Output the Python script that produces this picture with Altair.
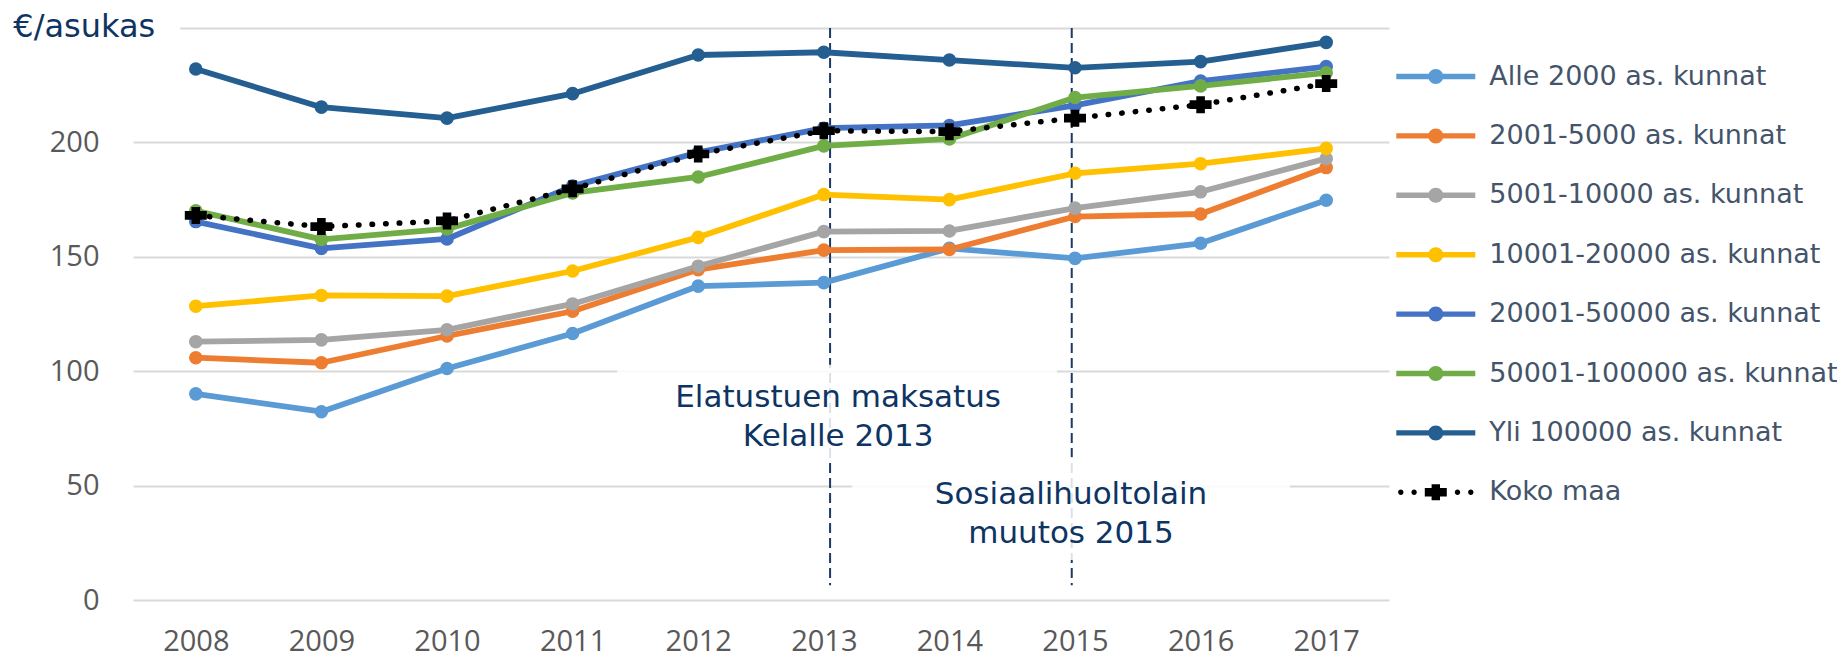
import altair as alt
import pandas as pd

# ---------------- data ----------------
years = [2008, 2009, 2010, 2011, 2012, 2013, 2014, 2015, 2016, 2017]

series_names = [
    "Alle 2000 as. kunnat",
    "2001-5000 as. kunnat",
    "5001-10000 as. kunnat",
    "10001-20000 as. kunnat",
    "20001-50000 as. kunnat",
    "50001-100000 as. kunnat",
    "Yli 100000 as. kunnat",
]
total_name = "Koko maa"

alle_2000 = [90.1, 82.3, 101.2, 116.5, 137.2, 138.7, 153.7, 149.3, 155.9, 174.7]
s_2001_5000 = [105.9, 103.7, 115.4, 126.2, 144.4, 152.9, 153.2, 167.6, 168.7, 189.0]
s_5001_10000 = [112.9, 113.7, 118.1, 129.4, 145.9, 161.0, 161.3, 171.3, 178.4, 192.9]
s_10001_20000 = [128.4, 133.1, 132.8, 143.8, 158.5, 177.2, 175.0, 186.5, 190.7, 197.4]
s_20001_50000 = [165.4, 153.7, 157.8, 180.9, 195.6, 206.2, 207.4, 216.2, 226.8, 233.1]
s_50001_100000 = [170.1, 157.6, 162.2, 177.9, 184.9, 198.5, 201.5, 219.6, 224.7, 230.4]
yli_100000 = [232.1, 215.4, 210.6, 221.3, 238.2, 239.4, 236.0, 232.6, 235.3, 243.7]
koko_maa = [168.1, 163.2, 165.7, 179.7, 194.9, 205.1, 204.7, 210.6, 216.5, 225.7]

series_colors = ["#5B9BD5", "#ED7D31", "#A5A5A5", "#FFC000", "#4472C4", "#70AD47", "#255E91"]
total_color = "#000000"

y_ticks = [0, 50, 100, 150, 200, 250]

# annotations (first-line anchor of each text block)
ann_text = ["Elatustuen maksatus\nKelalle 2013", "Sosiaalihuoltolain\nmuutos 2015"]
ann_x = [2013.114, 2014.968]
ann_y = [88.3, 45.9]
box_x1 = [2011.355, 2013.225]
box_x2 = [2014.857, 2016.711]
box_y1 = [59.9, 17.5]
box_y2 = [102.8, 62.5]
rule_x = [2013.05, 2014.974]
rule_top = [250, 250]
rule_bottom = [6.5, 6.5]
cover_x1 = [2007.5]
cover_x2 = [2007.876]
cover_y1 = [248.4]
cover_y2 = [251.6]
unit_title = ["€/asukas"]
unit_title_x = [2006.547]
unit_title_y = [250.6]

# ---------------- tables ----------------
all_series = [alle_2000, s_2001_5000, s_5001_10000, s_10001_20000,
              s_20001_50000, s_50001_100000, yli_100000]
rows = []
for name, vals in zip(series_names, all_series):
    for yr, v in zip(years, vals):
        rows.append({"year": yr, "value": v, "series": name})
df = pd.DataFrame(rows)
df_total = pd.DataFrame({"year": years, "value": koko_maa, "series": [total_name] * len(years)})
df_ann = pd.DataFrame({"year": ann_x, "value": ann_y, "label": ann_text})
df_box = pd.DataFrame({"year": box_x1, "x2": box_x2, "value": box_y1, "y2": box_y2})
df_rule = pd.DataFrame({"year": rule_x, "value": rule_top, "y2": rule_bottom})
df_cover = pd.DataFrame({"year": cover_x1, "x2": cover_x2, "value": cover_y1, "y2": cover_y2})
df_title = pd.DataFrame({"year": unit_title_x, "value": unit_title_y, "label": unit_title})

navy = "#0E3463"
all_names = series_names + [total_name]
all_colors = series_colors + [total_color]

# ---------------- symbol paths ----------------
def circle(cx, cy, r):
    k = round(0.5523 * r, 4)
    return (f"M{cx + r},{cy} "
            f"C{cx + r},{cy + k} {cx + k},{cy + r} {cx},{cy + r} "
            f"C{cx - k},{cy + r} {cx - r},{cy + k} {cx - r},{cy} "
            f"C{cx - r},{cy - k} {cx - k},{cy - r} {cx},{cy - r} "
            f"C{cx + k},{cy - r} {cx + r},{cy - k} {cx + r},{cy} Z")

def plus(a, b, t):
    return (f"M{-a},{-t} L{-t},{-t} L{-t},{-b} L{t},{-b} L{t},{-t} L{a},{-t} "
            f"L{a},{t} L{t},{t} L{t},{b} L{-t},{b} L{-t},{t} L{-a},{t} Z")

hl, ht = 3.95, 0.27
line_sym = f"M{-hl},{-ht} L{hl},{-ht} L{hl},{ht} L{-hl},{ht} Z " + circle(0, 0, 0.75)
koko_sym = " ".join([circle(x, 0, 0.27) for x in (-3.5, -2.17, 2.17, 3.5)]) + " " + plus(1.1, 0.8, 0.42)
marker_plus = plus(1.1, 0.85, 0.43)

# ---------------- encodings ----------------
def X(field="year"):
    return alt.X(f"{field}:Q",
                 scale=alt.Scale(domain=[2007.5, 2017.5], nice=False, zero=False),
                 axis=alt.Axis(values=years, format="d", grid=False, domain=False,
                               ticks=False, tickSize=0, labelPadding=27,
                               labelFont="Open Sans", labelFontSize=29,
                               labelColor="#595959", labelFlush=False,
                               labelOverlap=False),
                 title=None)

def Y(field="value"):
    return alt.Y(f"{field}:Q",
                 scale=alt.Scale(domain=[0, 250], nice=False),
                 axis=alt.Axis(values=y_ticks, grid=True, gridColor="#D9D9D9",
                               gridWidth=2, domain=False, ticks=False, tickSize=0,
                               labelPadding=34, labelFont="Open Sans",
                               labelFontSize=29, labelColor="#595959",
                               labelExpr="datum.value == 250 ? '' : datum.label"),
                 title=None)

color_scale = alt.Scale(domain=all_names, range=all_colors)

legend = alt.Legend(
    title=None, orient="none", legendX=1289.3, legendY=35, padding=0,
    labelFont="DejaVu Sans", labelFontSize=27, labelColor="#44546A",
    labelOffset=40, rowPadding=31.4, symbolSize=400, symbolStrokeWidth=0,
    symbolOpacity=1, labelLimit=0,
)

color_enc = alt.Color("series:N", scale=color_scale, legend=legend)

# ---------------- layers ----------------
# legend-only layer (draws nothing in the plot, defines the legend symbols)
legend_layer = alt.Chart(df_total).transform_filter("false").mark_point(
    filled=True, opacity=1, size=400).encode(
    x=X(), y=Y(),
    color=color_enc,
    shape=alt.Shape("series:N",
                    scale=alt.Scale(domain=all_names,
                                    range=[line_sym] * len(series_names) + [koko_sym]),
                    legend=legend),
)

rules = alt.Chart(df_rule).mark_rule(color="#1A3A68", strokeWidth=2, strokeDash=[10, 5]).encode(
    x=X(), y=Y(), y2=alt.Y2("y2:Q"))

boxes = alt.Chart(df_box).mark_rect(fill="white", opacity=0.85).encode(
    x=X(), x2=alt.X2("x2:Q"), y=Y(), y2=alt.Y2("y2:Q"))

cover = alt.Chart(df_cover).mark_rect(fill="white").encode(
    x=X(), x2=alt.X2("x2:Q"), y=Y(), y2=alt.Y2("y2:Q"))

lines = alt.Chart(df).mark_line(strokeWidth=5.8, strokeCap="round", strokeJoin="round").encode(
    x=X(), y=Y(), color=color_enc, order=alt.Order("year:Q"))

points = alt.Chart(df).mark_point(filled=True, size=185, opacity=1).encode(
    x=X(), y=Y(), color=color_enc)

total_line = alt.Chart(df_total).mark_line(strokeWidth=5.5, strokeCap="round",
                                           strokeDash=[0.5, 13.1]).encode(
    x=X(), y=Y(), color=color_enc, order=alt.Order("year:Q"))

total_points = alt.Chart(df_total).mark_point(filled=True, size=400, opacity=1,
                                              shape=marker_plus).encode(
    x=X(), y=Y(), color=color_enc)

texts = alt.Chart(df_ann).mark_text(font="DejaVu Sans", fontSize=31, color=navy,
                                    align="center", baseline="middle",
                                    lineBreak="\n", lineHeight=38.7).encode(
    x=X(), y=Y(), text="label:N")

title_text = alt.Chart(df_title).mark_text(font="DejaVu Sans", fontSize=32, color=navy,
                                           align="left", baseline="middle").encode(
    x=X(), y=Y(), text="label:N")

chart = alt.layer(
    legend_layer, rules, boxes, cover, lines, points, total_line, total_points,
    texts, title_text
).properties(
    width=1256, height=572,
    autosize=alt.AutoSizeParams(type="none"),
    padding={"left": 125, "top": 20, "right": 448, "bottom": 58},
    background="white",
).configure_view(stroke=None)

chart.save("out.html", embed_options={"renderer": "svg", "actions": False})
